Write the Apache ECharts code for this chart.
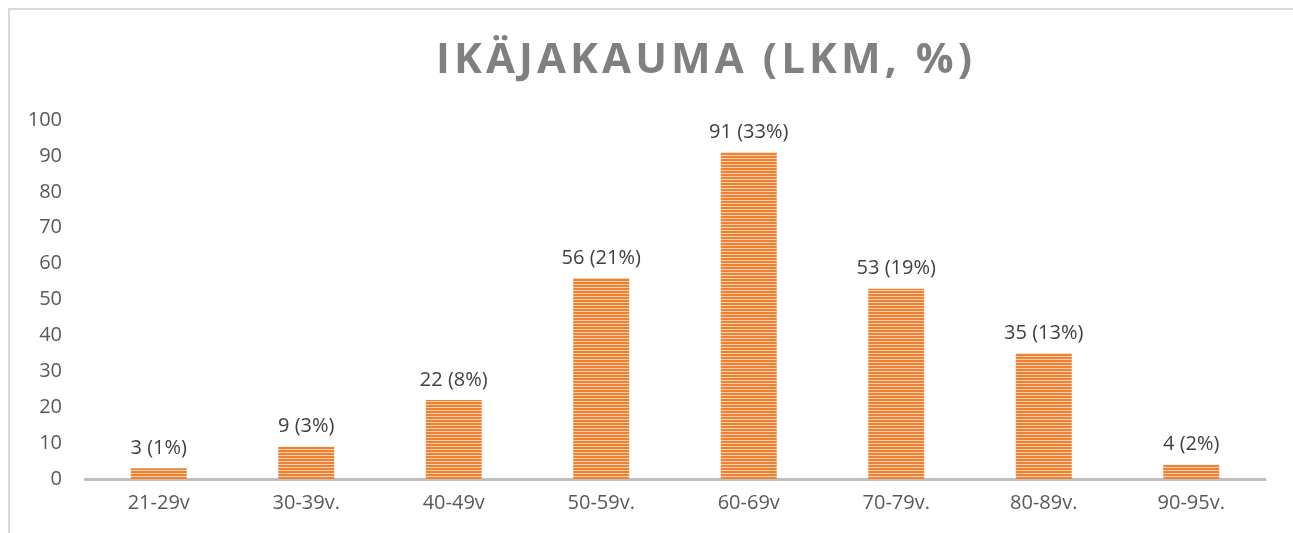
<!DOCTYPE html>
<html>
<head>
<meta charset="utf-8">
<script src="https://cdn.jsdelivr.net/npm/echarts@6/dist/echarts.min.js"></script>
<style>
html,body{margin:0;padding:0;background:#fff;}
#wrap{position:relative;width:1293px;height:533px;}
#chart{position:absolute;left:0;top:0;width:1293px;height:533px;}
#title{position:absolute;left:0;width:1412px;top:27px;text-align:center;font-family:"Open Sans",sans-serif;font-weight:700;font-size:42px;letter-spacing:4.1px;color:#808080;line-height:60px;white-space:nowrap;pointer-events:none;}
</style>
</head>
<body>
<div id="wrap">
<div id="chart"></div>
<div id="title">IKÄJAKAUMA (LKM, %)</div>
</div>
<script>
const titleText = 'IKÄJAKAUMA (LKM, %)';
const categories = ['21-29v', '30-39v.', '40-49v', '50-59v.', '60-69v', '70-79v.', '80-89v.', '90-95v.'];
const counts = [3, 9, 22, 56, 91, 53, 35, 4];
const percents = [1, 3, 8, 21, 33, 19, 13, 2];
const yTicks = [0, 10, 20, 30, 40, 50, 60, 70, 80, 90, 100];

document.getElementById('title').textContent = titleText;

// striped pattern
const pc = document.createElement('canvas');
pc.width = 4; pc.height = 3;
const pctx = pc.getContext('2d');
pctx.fillStyle = '#EF8232';
pctx.fillRect(0, 0, 4, 3);
pctx.fillStyle = '#FAD0AF';
pctx.fillRect(0, 2, 4, 1);

const chart = echarts.init(document.getElementById('chart'), null, {renderer: 'canvas'});
chart.setOption({
  animation: false,
  backgroundColor: '#ffffff',
  graphic: [{
    type: 'rect',
    shape: {x: 9, y: 9, width: 1400, height: 700},
    style: {fill: 'none', stroke: '#D9D9D9', lineWidth: 2},
    silent: true
  }],
  grid: {left: 85, right: 28, top: 120, bottom: 54, containLabel: false},
  xAxis: {
    type: 'category',
    data: categories,
    axisLine: {show: true, lineStyle: {color: '#BFBFBF', width: 3}},
    axisTick: {show: false},
    axisLabel: {color: '#595959', fontFamily: 'Open Sans', fontSize: 20, margin: 14}
  },
  yAxis: {
    type: 'value',
    min: yTicks[0],
    max: yTicks[yTicks.length - 1],
    interval: 10,
    axisLine: {show: false},
    axisTick: {show: false},
    splitLine: {show: false},
    axisLabel: {color: '#595959', fontFamily: 'Open Sans', fontSize: 20, margin: 23}
  },
  series: [{
    type: 'bar',
    data: counts,
    barWidth: 56,
    itemStyle: {color: {image: pc, repeat: 'repeat'}},
    label: {
      show: true,
      position: 'top',
      distance: 10,
      color: '#404040',
      fontFamily: 'Open Sans',
      fontSize: 20,
      formatter: (p) => counts[p.dataIndex] + ' (' + percents[p.dataIndex] + '%)'
    }
  }]
});
</script>
</body>
</html>
